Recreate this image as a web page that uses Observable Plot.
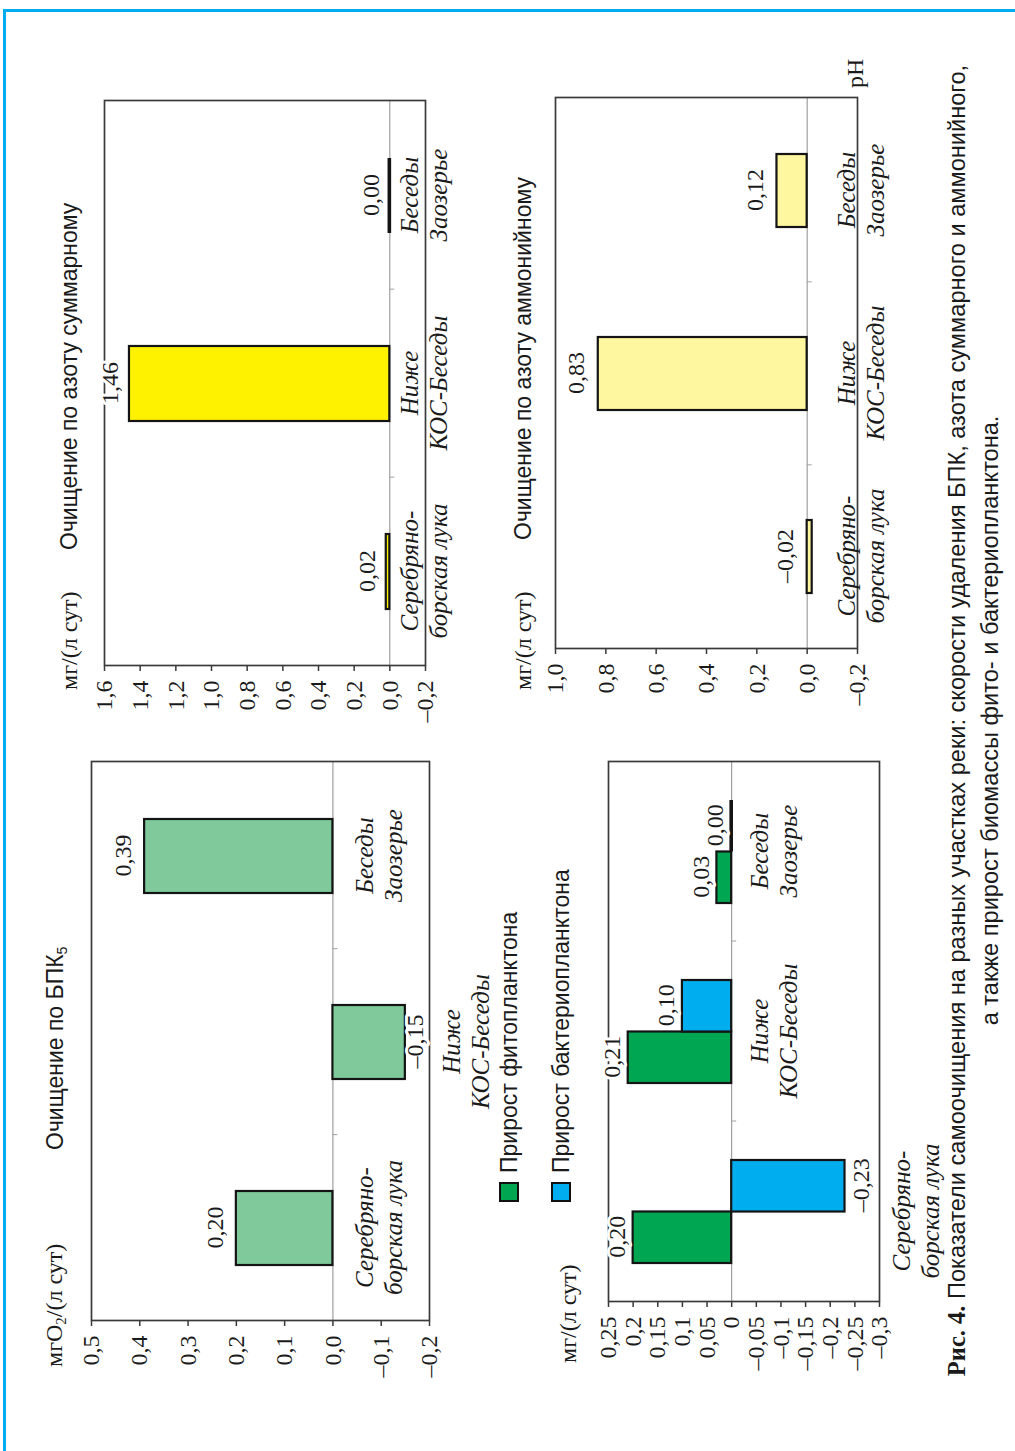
<!DOCTYPE html>
<html>
<head>
<meta charset="utf-8">
<script src="https://cdn.jsdelivr.net/npm/d3@7"></script>
<script src="https://cdn.jsdelivr.net/npm/@observablehq/plot@0.6"></script>
<style>
html,body{margin:0;padding:0;background:#fff;overflow:hidden}
body{width:1015px;height:1451px;position:relative}
#frameTop{position:absolute;left:3px;top:9px;width:1012px;height:3px;background:#00aeef}
#frameLeft{position:absolute;left:3px;top:9px;width:3px;height:1442px;background:#00aeef}
#land{position:absolute;left:0;top:0;width:1451px;height:1015px;transform-origin:0 0;transform:translate(0,1451px) rotate(-90deg)}
.abs{position:absolute;white-space:nowrap;color:#1a1a1a}
.sans{font-family:"Liberation Sans",Arial,sans-serif;font-size:23px}
.cap{font-family:"Liberation Sans",Arial,sans-serif;font-size:23.6px}
.serif{font-family:"Liberation Serif","Times New Roman",serif;font-size:24px}
sub{font-size:0.62em;vertical-align:-0.25em;line-height:0}
.sq{position:absolute;width:16px;height:16px;border:2px solid #111}
</style>
</head>
<body>
<div id="frameTop"></div>
<div id="frameLeft"></div>
<div id="land"></div>
<script>
// ---------------- data ----------------
const sites = ["Серебряноборская лука", "Ниже КОС-Беседы", "Беседы Заозерье"];
const siteLabels = ["Серебряно-\nборская лука", "Ниже\nКОС-Беседы", "Беседы\nЗаозерье"];
const bodValues = [0.20, -0.15, 0.39];
const nitrogenTotalValues = [0.02, 1.46, 0.00];
const nitrogenAmmoniumValues = [-0.02, 0.83, 0.12];
const phytoValues = [0.20, 0.21, 0.03];
const bacterioValues = [-0.23, 0.10, 0.00];
const seriesNames = ["Прирост фитопланктона", "Прирост бактериопланктона"];
const bodTicks = [0.5, 0.4, 0.3, 0.2, 0.1, 0.0, -0.1, -0.2];
const planktonTicks = [0.25, 0.2, 0.15, 0.1, 0.05, 0, -0.05, -0.1, -0.15, -0.2, -0.25, -0.3];
const nitrogenTotalTicks = [1.6, 1.4, 1.2, 1.0, 0.8, 0.6, 0.4, 0.2, 0.0, -0.2];
const nitrogenAmmoniumTicks = [1.0, 0.8, 0.6, 0.4, 0.2, 0.0, -0.2];
const titleBod = "Очищение по БПК<sub>5</sub>";
const titleNTotal = "Очищение по азоту суммарному";
const titleNAmm = "Очищение по азоту аммонийному";
const unitBod = "мгО<sub>2</sub>/(л сут)";
const unitMg = "мг/(л сут)";
const captionBold = "Рис. 4.";
const captionLine1 = " Показатели самоочищения на разных участках реки: скорости удаления БПК, азота суммарного и аммонийного,";
const captionLine2 = "а также прирост биомассы фито- и бактериопланктона.";
const phLabel = "pH";

// ---------------- helpers ----------------
const land = document.getElementById("land");
const sign = v => (v < 0 ? "–" : "");
const fmt1 = v => sign(v) + Math.abs(v).toFixed(1).replace(".", ",");
const fmtG = v => sign(v) + String(+Math.abs(v).toFixed(2)).replace(".", ",");
const fmt2 = v => sign(v) + Math.abs(v).toFixed(2).replace(".", ",");

function addHTML(html, cls, left, vCenter, lh) {
  const d = document.createElement("div");
  d.className = "abs " + cls;
  d.style.left = left + "px";
  d.style.top = (vCenter - lh / 2) + "px";
  d.style.lineHeight = lh + "px";
  d.innerHTML = html;
  land.appendChild(d);
  return d;
}

function chart(cfg) {
  const {u0, u1, v0, v1, domain, ticks, tickFmt, series, padInner, posDy, negDy, catPos, catNeg} = cfg;
  const threshold = -0.05;
  const ML = 90, MT = 40, MR = 30, MB = 100;
  const innerW = u1 - u0, innerH = v1 - v0;
  const W = innerW + ML + MR, H = innerH + MT + MB;
  const step = innerW / 3;
  const bw = step * (1 - padInner);
  const pxPerUnit = innerH / (domain[1] - domain[0]);
  const n = series.length;
  const sub = bw / n;
  const marks = [];
  marks.push(Plot.ruleY([0], {stroke: "#8c8c8c", strokeWidth: 1}));
  marks.push(Plot.ruleX(sites.slice(1), {x: d => d, y1: 0, y2: -5 / pxPerUnit, dx: -step / 2, stroke: "#a0a0a0", strokeWidth: 1}));
  series.forEach((s, k) => {
    const data = sites.map((site, i) => ({site, value: s.values[i]}));
    const insets = {insetLeft: k * sub, insetRight: (n - 1 - k) * sub};
    marks.push(Plot.barY(data, {
      x: "site", y: "value", fill: s.color, stroke: "#141414", strokeWidth: 2.2, ...insets
    }));
    // zero-height bars are drawn as a thick dark line
    marks.push(Plot.barY(data.filter(d => Math.abs(d.value) * pxPerUnit < 1.5), {
      x: "site", y: "value", fill: "#141414", insetTop: -1.8, insetBottom: -1.8, ...insets
    }));
  });
  marks.push(Plot.frame({stroke: "#3a3a3a", strokeWidth: 1.7}));
  marks.push(Plot.axisY({
    anchor: "left", ticks, tickFormat: tickFmt, tickSize: 5, tickPadding: 10,
    fontSize: 24, fontFamily: "Liberation Serif", stroke: "#3a3a3a", strokeWidth: 1.5
  }));
  series.forEach((s, k) => {
    const data = sites.map((site, i) => ({site, value: s.values[i]}));
    const dx = (k - (n - 1) / 2) * sub;
    const common = {
      x: "site", text: d => fmt2(d.value), dx, lineAnchor: "middle",
      fontSize: 24, fontFamily: "Liberation Serif", fill: "#1a1a1a",
      stroke: "white", strokeWidth: 6, paintOrder: "stroke", strokeLinejoin: "round"
    };
    marks.push(Plot.text(data.filter(d => d.value >= threshold), {...common, y: d => Math.max(0, d.value), dy: -posDy}));
    marks.push(Plot.text(data.filter(d => d.value < threshold), {...common, y: "value", dy: negDy}));
  });
  const catData = sites.map((site, i) => ({site, label: siteLabels[i], low: Math.min(...series.map(s => s.values[i]))}));
  const catCommon = {x: "site", text: "label", fontStyle: "italic", fontSize: 25, fontFamily: "Liberation Serif",
    lineHeight: 1.16, lineAnchor: "middle", fill: "#1a1a1a"};
  marks.push(Plot.text(catData.filter(d => d.low >= threshold), {...catCommon, y: () => 0, dy: catPos}));
  marks.push(Plot.text(catData.filter(d => d.low < threshold), {...catCommon, y: "low", dy: catNeg}));

  const svg = Plot.plot({
    width: W, height: H,
    marginLeft: ML, marginTop: MT, marginRight: MR, marginBottom: MB,
    x: {type: "band", domain: sites, paddingInner: padInner, paddingOuter: padInner / 2, axis: null},
    y: {domain, axis: null},
    style: {background: "transparent", overflow: "visible", fontFamily: "Liberation Serif", fontSize: "24px", color: "#1a1a1a"},
    marks
  });
  const wrap = document.createElement("div");
  wrap.style.position = "absolute";
  wrap.style.left = (u0 - ML) + "px";
  wrap.style.top = (v0 - MT) + "px";
  wrap.style.width = W + "px";
  wrap.style.height = H + "px";
  svg.style.maxWidth = "none";
  wrap.appendChild(svg);
  land.appendChild(wrap);
}

// ---------------- charts (landscape coordinates, rotated afterwards) ----------------
chart({u0: 130, u1: 689, v0: 91, v1: 429, domain: [-0.2, 0.5], ticks: bodTicks, tickFmt: fmt1,
  series: [{values: bodValues, color: "#80c99b"}], padInner: 0.6, posDy: 21, negDy: 10, catPos: 45, catNeg: 60});

chart({u0: 149, u1: 689, v0: 608, v1: 879, domain: [-0.3, 0.25], ticks: planktonTicks, tickFmt: fmtG,
  series: [{values: phytoValues, color: "#00a651"}, {values: bacterioValues, color: "#00aeef"}],
  padInner: 0.428, posDy: 16, negDy: 16, catPos: 42, catNeg: 70});

chart({u0: 785, u1: 1350, v0: 104, v1: 425, domain: [-0.2, 1.6], ticks: nitrogenTotalTicks, tickFmt: fmt1,
  series: [{values: nitrogenTotalValues, color: "#fff200"}], padInner: 0.6, posDy: 19, negDy: 12, catPos: 33, catNeg: 50});

chart({u0: 802, u1: 1353, v0: 555, v1: 857, domain: [-0.2, 1.0], ticks: nitrogenAmmoniumTicks, tickFmt: fmt1,
  series: [{values: nitrogenAmmoniumValues, color: "#fff6a0"}], padInner: 0.6, posDy: 22, negDy: 12, catPos: 53, catNeg: 60});

// ---------------- titles, units, legend, caption ----------------
addHTML(titleBod, "sans", 301, 55, 30);
addHTML(unitBod, "serif", 84, 54, 30);
addHTML(unitMg, "serif", 88, 568, 30);
addHTML(unitMg, "serif", 761, 69, 30);
addHTML(titleNTotal, "sans", 901, 69, 30);
addHTML(unitMg, "serif", 761, 523, 30);
addHTML(titleNAmm, "sans", 911, 523, 30);
addHTML(phLabel, "serif", 1363, 855, 30);

const legendColors = ["#00a651", "#00aeef"];
const legendV = [509, 561];
seriesNames.forEach((name, k) => {
  const sq = document.createElement("div");
  sq.className = "sq";
  sq.style.left = "249px";
  sq.style.top = (legendV[k] - 10) + "px";
  sq.style.background = legendColors[k];
  land.appendChild(sq);
  addHTML(name, "sans", 278, legendV[k], 30);
});

const c1 = addHTML('<b style="font-family:\'Liberation Serif\',serif;font-size:24.5px">' + captionBold + '</b>' + captionLine1, "cap", 5, 957, 32);
c1.style.width = "1451px"; c1.style.textAlign = "center";
const c2 = addHTML(captionLine2, "cap", 5, 990, 32);
c2.style.width = "1451px"; c2.style.textAlign = "center";
</script>
</body>
</html>
